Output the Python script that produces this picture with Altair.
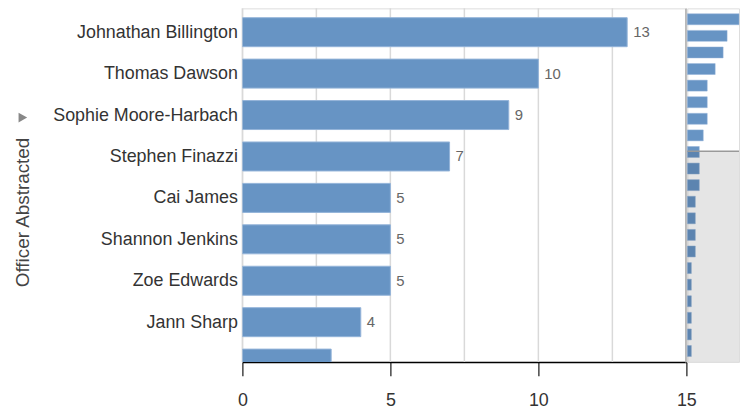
import altair as alt
import pandas as pd

# ---- data ----
officer_names = [
    "Johnathan Billington", "Thomas Dawson", "Sophie Moore-Harbach",
    "Stephen Finazzi", "Cai James", "Shannon Jenkins", "Zoe Edwards", "Jann Sharp",
]
officer_counts = [13, 10, 9, 7, 5, 5, 5, 4, 3, 3, 3, 2, 2, 2, 2, 1, 1, 1, 1, 1, 1]
grid_values = [0, 2.5, 5, 7.5, 10, 12.5, 15]
tick_values = [0, 5, 10, 15]
main_window = [-0.576, 7.96]      # rows visible in the scrolled main view
overview_window = [-0.66, 20.66]  # rows in the overview strip

df = pd.DataFrame({"rank": list(range(len(officer_counts))), "count": officer_counts})
main_df = df[df["rank"] <= 8]
grid_df = pd.DataFrame({"v": grid_values})
window_df = pd.DataFrame({"start": [main_window[1]], "end": [overview_window[1]]})
icon_df = pd.DataFrame({"icon": ["▶"]})

BAR = "#6794c4"
BAR_EDGE = "#93b3d9"

x_main = alt.Scale(domain=[0, 15], nice=False, zero=True)
y_main = alt.Scale(domain=main_window, reverse=True, nice=False, zero=False)

label_expr = "[" + ", ".join("'" + n + "'" for n in officer_names) + "][datum.value]"

xa = alt.Axis(values=tick_values, title=None, grid=False, domainColor="#000",
              domainWidth=1.5, tickColor="#444", tickWidth=1.5, tickSize=14,
              labelPadding=16, labelFontSize=18, labelColor="#333", labelFlush=False)
ya = alt.Axis(values=list(range(len(officer_names))), labelExpr=label_expr,
              domain=False, ticks=False, grid=False, labelPadding=5,
              labelFontSize=18, labelColor="#333", labelLimit=400,
              title="Officer Abstracted", titleFontSize=19, titleFontWeight="normal",
              titleColor="#444", titleAngle=270, titleAlign="center",
              titleBaseline="middle", titleX=-221, titleY=205)

grid = alt.Chart(grid_df).mark_rule(color="#d9d9d9", strokeWidth=1.5).encode(
    x=alt.X("v:Q", scale=x_main, axis=xa),
)

bars = alt.Chart(main_df).transform_calculate(
    y0="datum.rank - 0.35", y1="datum.rank + 0.35"
).mark_rect(color=BAR, stroke=BAR_EDGE, strokeWidth=1, clip=True).encode(
    x=alt.X("count:Q", scale=x_main, axis=xa),
    x2=alt.datum(0),
    y=alt.Y("y0:Q", scale=y_main, axis=ya),
    y2="y1:Q",
)

labels = alt.Chart(main_df).transform_filter(
    alt.datum.rank < main_window[1] - 0.5
).mark_text(
    align="left", baseline="middle", dx=6, fontSize=15, color="#666", clip=True
).encode(
    x=alt.X("count:Q", scale=x_main, axis=xa),
    y=alt.Y("rank:Q", scale=y_main, axis=ya),
    text="count:Q",
)

icon = alt.Chart(icon_df).mark_point(
    shape="triangle-right", filled=True, fill="#888", color="#888", size=100, opacity=1
).encode(x=alt.value(-221), y=alt.value(110))

main = alt.layer(grid, bars, labels, icon).properties(width=447, height=356)

# ---- overview strip ----
x_ov = alt.Scale(domain=[0, 13], nice=False)
y_ov = alt.Scale(domain=overview_window, reverse=True, nice=False, zero=False)
yo = alt.Axis(labels=False, ticks=False, grid=False, title=None,
              domainColor="#b0b0b0", domainWidth=1.5, offset=2)

ov_bars = alt.Chart(df).transform_calculate(
    y0="datum.rank - 0.33", y1="datum.rank + 0.33"
).mark_rect(color=BAR, stroke=BAR_EDGE, strokeWidth=0.5).encode(
    x=alt.X("count:Q", scale=x_ov, axis=None),
    x2=alt.datum(0),
    y=alt.Y("y0:Q", scale=y_ov, axis=yo),
    y2="y1:Q",
)

shade = alt.Chart(window_df).mark_rect(color="#000", opacity=0.1).encode(
    x=alt.value(0), x2=alt.value("width"),
    y=alt.Y("start:Q", scale=y_ov, axis=yo), y2="end:Q",
)

edge = alt.Chart(window_df).mark_rule(color="#999", strokeWidth=1.5).encode(
    x=alt.value(0), x2=alt.value("width"),
    y=alt.Y("start:Q", scale=y_ov, axis=yo),
)

ov = alt.layer(ov_bars, shade, edge).properties(width=52, height=356)

chart = alt.hconcat(main, ov, spacing=1, bounds="flush").properties(
    padding={"left": 13, "top": 5, "right": 0, "bottom": 0}
).configure_view(strokeWidth=0).configure(font="Liberation Sans")

chart.save("out.html", embed_options={"renderer": "svg", "actions": False})
